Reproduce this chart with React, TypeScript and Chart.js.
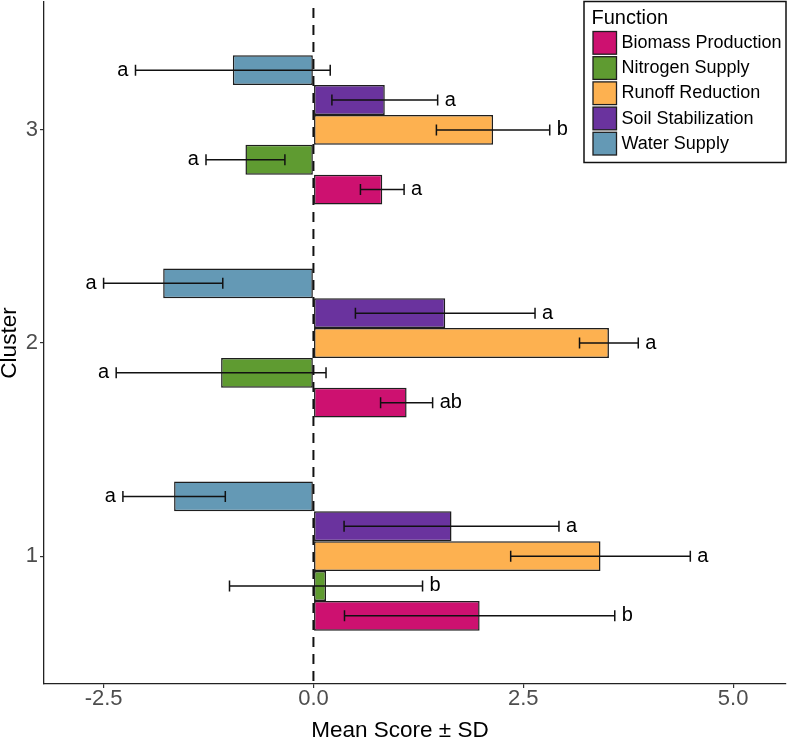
import React, { useEffect, useRef } from 'react';
import { Chart, registerables } from 'chart.js';

Chart.register(...registerables);

// ---- data ----
const clusters = [1, 2, 3];
const functionNames = ['Biomass Production', 'Nitrogen Supply', 'Runoff Reduction', 'Soil Stabilization', 'Water Supply'];
const functionColors = ['#CD1170', '#5F9B31', '#FDB150', '#6A339E', '#6499B5'];

// values per cluster [1, 2, 3]
const biomassMean = [1.98, 1.11, 0.82];
const biomassSD = [1.61, 0.31, 0.26];
const biomassLetters = ['b', 'ab', 'a'];

const nitrogenMean = [0.15, -1.1, -0.81];
const nitrogenSD = [1.15, 1.25, 0.47];
const nitrogenLetters = ['b', 'a', 'a'];

const runoffMean = [3.42, 3.52, 2.14];
const runoffSD = [1.07, 0.35, 0.675];
const runoffLetters = ['a', 'a', 'b'];

const soilMean = [1.645, 1.57, 0.85];
const soilSD = [1.28, 1.07, 0.63];
const soilLetters = ['a', 'a', 'a'];

const waterMean = [-1.66, -1.79, -0.96];
const waterSD = [0.61, 0.71, 1.16];
const waterLetters = ['a', 'a', 'a'];

const xTickValues = [-2.5, 0, 2.5, 5.0];
const yTickValues = [1, 2, 3];

const xTitle = 'Mean Score \u00B1 SD';
const yTitle = 'Cluster';
const legendTitle = 'Function';

const FONT = '"Liberation Sans", Arial, Helvetica, sans-serif';

const seriesMeans = [biomassMean, nitrogenMean, runoffMean, soilMean, waterMean];
const seriesSDs = [biomassSD, nitrogenSD, runoffSD, soilSD, waterSD];
const seriesLetters = [biomassLetters, nitrogenLetters, runoffLetters, soilLetters, waterLetters];

export default function App() {
  const canvasRef = useRef<HTMLCanvasElement | null>(null);

  useEffect(() => {
    const canvas = canvasRef.current;
    if (!canvas) return;

    // datasets drawn top-to-bottom within each cluster: Water, Soil, Runoff, Nitrogen, Biomass
    const order = [4, 3, 2, 1, 0];
    const datasets = order.map((k) => ({
      label: functionNames[k],
      data: clusters.map((c, i) => ({ x: seriesMeans[k][i], y: c })),
      backgroundColor: functionColors[k],
      borderColor: '#1e1e1e',
      borderWidth: 1.5,
      borderSkipped: false,
      sd: seriesSDs[k],
      letters: seriesLetters[k],
      legendIndex: k,
    }));

    const zeroLine = {
      id: 'zeroLine',
      beforeDatasetsDraw(chart: any) {
        const { ctx, chartArea, scales } = chart;
        const x = scales.x.getPixelForValue(0);
        ctx.save();
        ctx.strokeStyle = '#111';
        ctx.lineWidth = 2;
        ctx.setLineDash([10, 7]);
        ctx.beginPath();
        ctx.moveTo(x, chartArea.top + 6);
        ctx.lineTo(x, chartArea.bottom);
        ctx.stroke();
        ctx.restore();
      },
    };

    const errorBars = {
      id: 'errorBars',
      afterDatasetsDraw(chart: any) {
        const { ctx, scales } = chart;
        const xs = scales.x;
        ctx.save();
        chart.data.datasets.forEach((ds: any, di: number) => {
          const meta = chart.getDatasetMeta(di);
          meta.data.forEach((bar: any, j: number) => {
            const mean = ds.data[j].x;
            const sd = ds.sd[j];
            const y = bar.y;
            const x1 = xs.getPixelForValue(mean - sd);
            const x2 = xs.getPixelForValue(mean + sd);
            ctx.strokeStyle = '#111';
            ctx.lineWidth = 1.5;
            ctx.setLineDash([]);
            ctx.beginPath();
            ctx.moveTo(x1, y);
            ctx.lineTo(x2, y);
            ctx.moveTo(x1, y - 5.5);
            ctx.lineTo(x1, y + 5.5);
            ctx.moveTo(x2, y - 5.5);
            ctx.lineTo(x2, y + 5.5);
            ctx.stroke();
            ctx.fillStyle = '#000';
            ctx.font = `20px ${FONT}`;
            ctx.textBaseline = 'middle';
            if (mean >= 0) {
              ctx.textAlign = 'left';
              ctx.fillText(ds.letters[j], x2 + 7, y);
            } else {
              ctx.textAlign = 'right';
              ctx.fillText(ds.letters[j], x1 - 7, y);
            }
          });
        });
        ctx.restore();
      },
    };

    const axisTitles = {
      id: 'axisTitles',
      afterDraw(chart: any) {
        const { ctx, chartArea } = chart;
        ctx.save();
        ctx.fillStyle = '#000';
        ctx.font = `22.5px ${FONT}`;
        ctx.textAlign = 'center';
        ctx.textBaseline = 'alphabetic';
        ctx.fillText(xTitle, 400, 736.5);
        ctx.translate(16, (chartArea.top + chartArea.bottom) / 2);
        ctx.rotate(-Math.PI / 2);
        ctx.fillText(yTitle, 0, 0);
        ctx.restore();
      },
    };

    const customLegend = {
      id: 'customLegend',
      afterDraw(chart: any) {
        const { ctx } = chart;
        const left = 584;
        const top = 1.5;
        const right = 786;
        const bottom = 162.5;
        ctx.save();
        ctx.fillStyle = '#fff';
        ctx.fillRect(left, top, right - left, bottom - top);
        ctx.strokeStyle = '#111';
        ctx.lineWidth = 1.5;
        ctx.strokeRect(left, top, right - left, bottom - top);
        ctx.fillStyle = '#000';
        ctx.font = `20px ${FONT}`;
        ctx.textAlign = 'left';
        ctx.textBaseline = 'alphabetic';
        ctx.fillText(legendTitle, 591.5, 24);
        const items = chart.data.datasets
          .map((ds: any) => ({ label: ds.label, color: ds.backgroundColor, k: ds.legendIndex }))
          .sort((a: any, b: any) => a.k - b.k);
        items.forEach((it: any, i: number) => {
          const ky = 31.5 + i * 25.2;
          ctx.fillStyle = it.color;
          ctx.fillRect(593, ky, 23.5, 22.7);
          ctx.strokeStyle = '#1e1e1e';
          ctx.lineWidth = 1.3;
          ctx.strokeRect(593, ky, 23.5, 22.7);
          ctx.fillStyle = '#000';
          ctx.font = `18px ${FONT}`;
          ctx.textBaseline = 'middle';
          ctx.fillText(it.label, 621.5, ky + 11.6);
        });
        ctx.restore();
      },
    };

    const chart = new Chart(canvas, {
      type: 'bar',
      data: { datasets: datasets as any },
      options: {
        indexAxis: 'y',
        responsive: false,
        animation: false,
        devicePixelRatio: 1,
        layout: { padding: { top: 2, right: 2, left: 0, bottom: 0 } },
        datasets: {
          bar: { categoryPercentage: 0.7, barPercentage: 1.0, grouped: true },
        },
        plugins: {
          legend: { display: false },
          tooltip: { enabled: false },
        },
        scales: {
          x: {
            type: 'linear',
            position: 'bottom',
            min: -3.21,
            max: 5.63,
            afterBuildTicks: (scale: any) => {
              scale.ticks = xTickValues.map((v) => ({ value: v }));
            },
            afterFit: (scale: any) => {
              scale.height = 54;
              scale.paddingLeft = 0;
              scale.paddingRight = 0;
            },
            ticks: {
              color: '#4D4D4D',
              font: { family: FONT, size: 22, lineHeight: 1 },
              padding: 0,
              maxRotation: 0,
              autoSkip: false,
              callback: (v: any) => Number(v).toFixed(1),
            },
            grid: {
              display: true,
              drawOnChartArea: false,
              drawTicks: true,
              tickLength: 4,
              color: '#333',
              lineWidth: 1.2,
            },
            border: { display: true, color: '#222', width: 1.3 },
            title: { display: false },
          },
          y: {
            type: 'linear',
            position: 'left',
            offset: false,
            min: 0.4,
            max: 3.6,
            afterBuildTicks: (scale: any) => {
              scale.ticks = yTickValues.map((v) => ({ value: v }));
            },
            afterFit: (scale: any) => {
              scale.width = 44;
              scale.paddingTop = 0;
              scale.paddingBottom = 0;
            },
            ticks: {
              color: '#4D4D4D',
              font: { family: FONT, size: 22, lineHeight: 1 },
              padding: 2,
              autoSkip: false,
              callback: (v: any) => String(v),
            },
            grid: {
              display: true,
              offset: false,
              drawOnChartArea: false,
              drawTicks: true,
              tickLength: 4,
              color: '#333',
              lineWidth: 1.2,
            },
            border: { display: true, color: '#222', width: 1.3 },
            title: { display: false },
          },
        },
      },
      plugins: [zeroLine, errorBars, axisTitles, customLegend],
    });

    return () => {
      chart.destroy();
    };
  }, []);

  return (
    <div style={{ position: 'fixed', left: 0, top: 0, width: 788, height: 738, background: '#fff' }}>
      <canvas ref={canvasRef} width={788} height={738} style={{ display: 'block', width: 788, height: 738 }} />
    </div>
  );
}
